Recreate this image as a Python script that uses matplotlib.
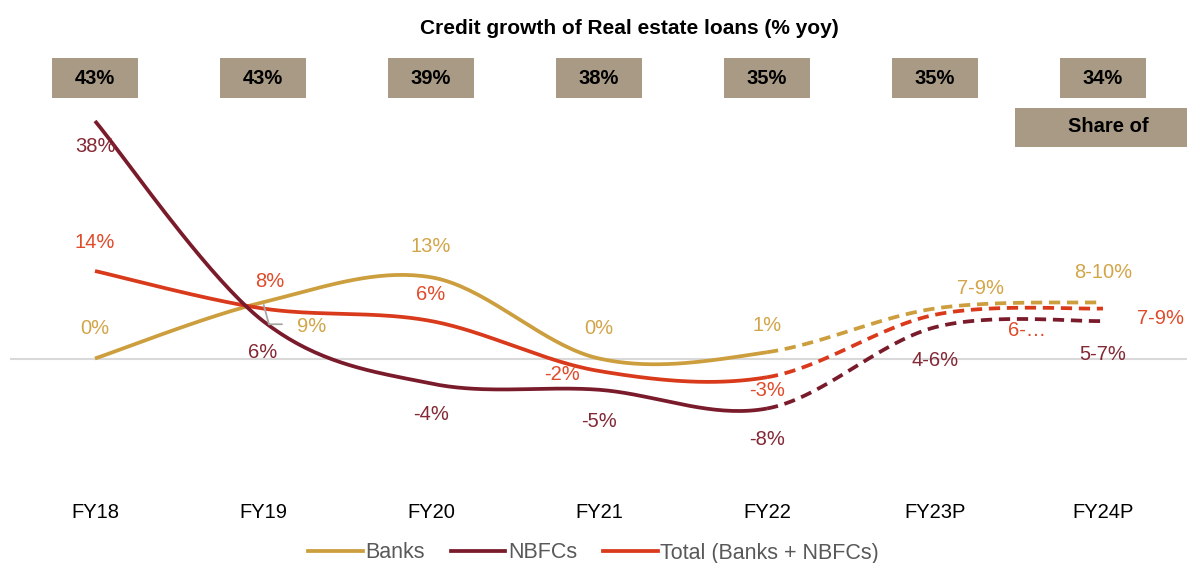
import numpy as np
import matplotlib.pyplot as plt
import matplotlib.transforms as mtransforms
from matplotlib.patches import Rectangle
from matplotlib.lines import Line2D

plt.rcParams['font.family'] = ['Liberation Sans', 'DejaVu Sans']

years = ['FY18', 'FY19', 'FY20', 'FY21', 'FY22', 'FY23P', 'FY24P']
banks = [0, 9, 13, 0, 1, 8, 9]
nbfcs = [38, 6, -4, -5, -8, 5, 6]
total = [14, 8, 6, -2, -3, 7, 8]
banks_labels = ['0%', '9%', '13%', '0%', '1%', '7-9%', '8-10%']
nbfcs_labels = ['38%', '6%', '-4%', '-5%', '-8%', '4-6%', '5-7%']
total_labels = ['14%', '8%', '6%', '-2%', '-3%', '6-…', '7-9%']
share = ['43%', '43%', '39%', '38%', '35%', '35%', '34%']
n_actual = 5  # FY18..FY22 actual, after that projected (dashed)

# label offsets in pixels (dx, dy up)
banks_off = [(0, 30), (49, -24), (0, 31), (0, 30), (0, 27), (45, 20), (0, 30)]
nbfcs_off = [(0, -25), (0, -32), (0, -31), (0, -32), (0, -31), (0, -33), (0, -33)]
total_off = [(0, 29), (7, 27), (0, 27), (-37, -4), (0, -13), (92, -16), (57, -10)]

c_banks, c_nbfc, c_total = '#CC9E3D', '#7A1B2B', '#D93A1B'
l_banks, l_nbfc, l_total = '#D2A548', '#842835', '#E04B2A'
box_col = '#A89A84'


def smooth(y, steps=40):
    # Excel-like smoothed line: cubic bezier, control points at 1/6 of neighbours
    x = np.arange(len(y), dtype=float)
    y = np.asarray(y, dtype=float)
    px = np.concatenate([[x[0]], x, [x[-1]]])
    py = np.concatenate([[y[0]], y, [y[-1]]])
    t = np.linspace(0, 1, steps)[:, None]
    segs = []
    for i in range(len(y) - 1):
        p0 = np.array([px[i], py[i]])
        p1 = np.array([px[i + 1], py[i + 1]])
        p2 = np.array([px[i + 2], py[i + 2]])
        p3 = np.array([px[i + 3], py[i + 3]])
        c1 = p1 + (p2 - p0) / 6
        c2 = p2 - (p3 - p1) / 6
        pts = ((1 - t) ** 3) * p1 + 3 * ((1 - t) ** 2) * t * c1 + 3 * (1 - t) * t ** 2 * c2 + t ** 3 * p2
        segs.append(pts)
    return segs


fig = plt.figure(figsize=(11.87, 5.63), dpi=100)
ax = fig.add_axes([10 / 1187, 1 - 490 / 563, 1 - 10 / 1187, 390 / 563])
ax.set_xlim((10 - 95) / 168, (1187 - 95) / 168)
ax.set_ylim((358.5 - 490) / 6.25, (358.5 - 100) / 6.25)

ax.axhline(0, color='#D9D9D9', lw=1.5, zorder=1)

x = np.arange(len(years))
for vals, col in [(banks, c_banks), (total, c_total), (nbfcs, c_nbfc)]:
    segs = smooth(vals)
    solid = np.vstack(segs[:n_actual - 1])
    dashed = np.vstack(segs[n_actual - 1:])
    ax.plot(solid[:, 0], solid[:, 1], color=col, lw=2.7, solid_capstyle='butt', zorder=3)
    ax.plot(dashed[:, 0], dashed[:, 1], color=col, lw=2.7, dashes=(3, 1.8), zorder=3)

for vals, labels, offs, col in [(banks, banks_labels, banks_off, l_banks),
                                (nbfcs, nbfcs_labels, nbfcs_off, l_nbfc),
                                (total, total_labels, total_off, l_total)]:
    for i in range(len(vals)):
        ax.annotate(labels[i], (x[i], vals[i]), xytext=offs[i], textcoords='offset pixels',
                    ha='center', va='center', fontsize=14.5, color=col, zorder=4)

# leader line for the Banks FY19 label
ax.annotate('', (x[1], banks[1]), xytext=(19, -22), textcoords='offset pixels',
            arrowprops=dict(arrowstyle='-', color='#A6A6A6', lw=1.3,
                            connectionstyle='angle,angleA=0,angleB=-75,rad=0',
                            shrinkA=0, shrinkB=2))

ax.set_xticks(x)
ax.set_xticklabels(years, fontsize=14.5)
ax.tick_params(axis='x', length=0, pad=9)
ax.set_yticks([])
for s in ax.spines.values():
    s.set_visible(False)

# share boxes above the plot
trans = mtransforms.blended_transform_factory(ax.transData, fig.transFigure)
for i, s in enumerate(share):
    ax.add_patch(Rectangle((x[i] - 0.256, 1 - 98 / 563), 0.512, 40 / 563, transform=trans,
                           facecolor=box_col, edgecolor='none', clip_on=False, zorder=5))
    ax.text(x[i], 1 - 78 / 563, s, transform=trans, ha='center', va='center',
            fontsize=14.5, fontweight='bold', zorder=6)

fig.add_artist(Rectangle((1015 / 1187, 1 - 147 / 563), 172 / 1187, 39 / 563,
                         transform=fig.transFigure, facecolor=box_col, edgecolor='none'))
fig.text(1108 / 1187, 1 - 127 / 563, 'Share of', ha='center', va='center',
         fontsize=14.5, fontweight='bold')

fig.text(629 / 1187, 1 - 28 / 563, 'Credit growth of Real estate loans (% yoy)',
         ha='center', va='center', fontsize=15, fontweight='bold')

handles = [Line2D([], [], color=c_banks, lw=2.7),
           Line2D([], [], color=c_nbfc, lw=2.7),
           Line2D([], [], color=c_total, lw=2.7)]
leg = fig.legend(handles, ['Banks', 'NBFCs', 'Total (Banks + NBFCs)'], loc='center',
                 bbox_to_anchor=(0.5, 1 - 553 / 563), ncol=3, frameon=False, fontsize=15.5,
                 handlelength=2.55, handletextpad=0.12, columnspacing=1.2, borderpad=0)
for t in leg.get_texts():
    t.set_color('#595959')

fig.savefig('out.png', dpi=100)
